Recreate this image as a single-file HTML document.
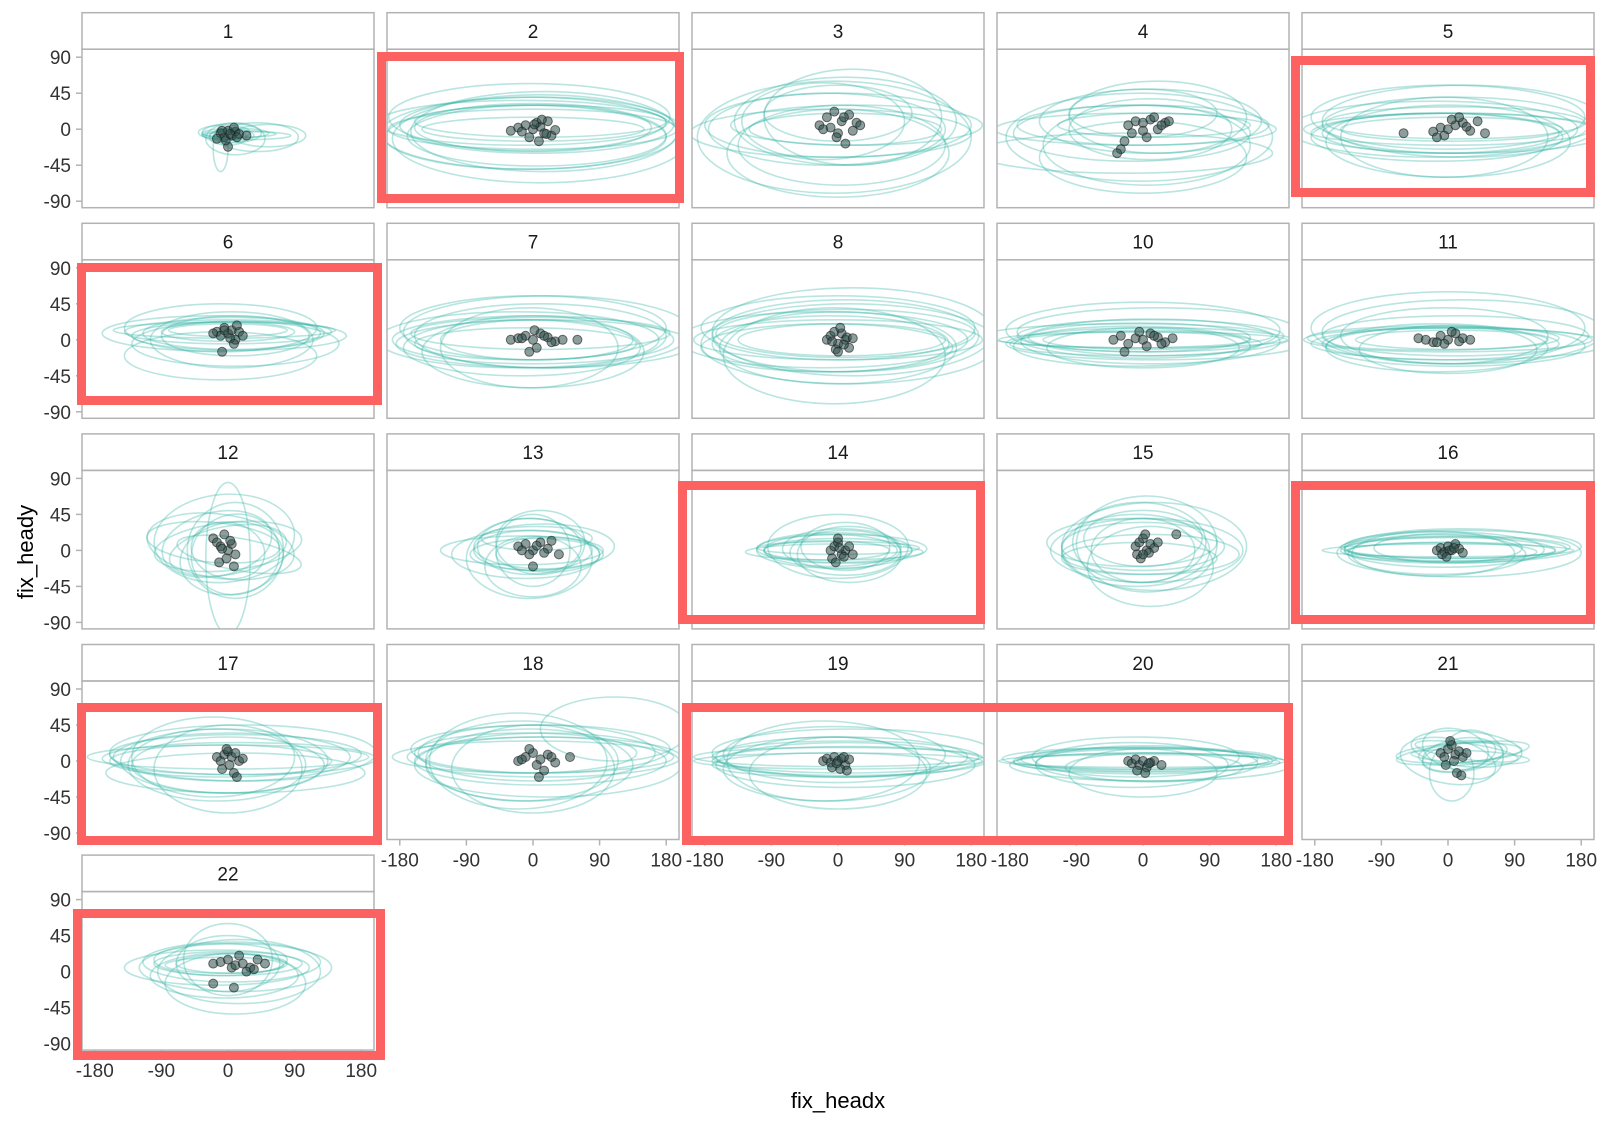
<!DOCTYPE html>
<html><head><meta charset="utf-8">
<style>
html,body{margin:0;padding:0;background:#fff;}
svg{display:block;font-family:"Liberation Sans",Arial,sans-serif;}
</style></head>
<body>
<svg id="chart" width="1607" height="1125" viewBox="0 0 1607 1125" xmlns="http://www.w3.org/2000/svg">
<text x="838" y="1108" font-size="22" text-anchor="middle" fill="#000">fix_headx</text>
<text x="0" y="0" font-size="22" text-anchor="middle" fill="#000" transform="translate(33,552) rotate(-90)">fix_heady</text>
</svg>
<script>
const panelIds = [1,2,3,4,5,6,7,8,10,11,12,13,14,15,16,17,18,19,20,21,22];
const xTicks = [-180,-90,0,90,180];
const yTicks = [90,45,0,-45,-90];
const defaultCx = [0,10,-10,20,-15,5,0,15,-5,10,-20,0];
const defaultCy = [0,5,-5,10,-10,0,15,-5,-10,8,0,-15];
const ellCx = [
 [5,10,0,25,5,-10,40,0,15,-5,55,10],
 [0,5,-5,10,-10,0,15,-15,5,0,-5,10],
 [0,10,-10,20,-15,5,0,25,-5,10,-20,0],
 [0,10,-10,20,-15,5,0,-25,15,-5,10,0],
 null,
 [0,5,-5,10,-10,0,15,-10,5,0,-20,10],
 null,null,null,null,
 [0,-10,10,-20,5,0,-5,15,0,-15,10,0],
 [0,-5,5,10,-10,0,5,-5,15,0,-15,20],
 [0,5,-5,10,-10,0,15,0,-15,5,10,-5],
 [0,5,-5,10,-10,0,15,-5,5,0,-15,10],
 null,null,
 [0,10,-10,20,-15,5,0,15,-5,10,-20,110],
 null,
 [0,5,-5,10,-10,0,15,-5,5,0,-15,0],
 [20,25,15,30,10,20,35,5,20,25,0,15],
 [0,5,-5,10,-10,0,15,-5,5,0,-15,10]
];
const ellCy = [
 [-8,-5,-10,-8,-5,-25,-10,-8,-6,-4,-8,-12],
 [0,5,-5,10,-10,2,-3,8,-8,0,15,-12],
 [5,10,-5,15,0,-20,20,5,-10,0,10,-30],
 [5,10,0,15,-5,-20,20,-30,5,-10,0,-35],
 [0,5,-5,10,-10,0,15,-5,-10,8,0,-15],
 [10,8,12,5,15,10,5,-20,0,12,8,-5],
 [0,5,-5,10,-10,0,15,-5,-10,8,0,-15],
 [0,5,-5,10,-10,0,15,-5,-20,8,0,-10],
 [0,5,-5,10,-8,0,12,-5,3,-2,5,-10],
 [0,5,-5,10,-10,0,15,-5,5,-8,2,-12],
 [0,5,-5,10,-10,0,15,-5,-10,8,0,5],
 [0,5,-5,10,-5,0,15,-10,5,-20,0,-5],
 [0,2,-2,5,0,3,-5,5,0,2,-3,0],
 [5,0,10,-5,0,15,5,-10,8,0,10,-20],
 [0,2,-2,5,-5,0,3,-3,1,4,-4,0],
 [5,8,0,10,-5,5,-10,3,0,-15,5,-5],
 [5,0,10,-5,0,10,-10,5,-5,15,0,40],
 [0,5,-5,10,-10,5,-15,0,8,-5,0,5],
 [0,-2,2,-5,5,0,-8,3,-3,0,-5,-15],
 [10,12,8,5,15,10,8,-15,5,15,0,10],
 [10,12,8,5,15,10,0,-5,10,15,5,-15]
];
const ellRx = [
 [30,45,25,60,40,10,55,20,50,35,50,40],
 [195,185,200,170,190,160,180,195,175,150,190,200],
 [180,150,190,120,160,140,100,170,185,130,110,150],
 [170,150,190,120,160,140,100,200,130,180,110,140],
 [195,180,160,190,170,150,185,200,140,175,195,165],
 [140,120,150,100,130,90,145,130,110,80,150,140],
 [190,170,150,195,160,130,180,200,120,175,190,150],
 [195,180,160,190,170,140,185,200,150,175,195,160],
 [195,180,170,190,160,140,185,200,150,175,195,130],
 [195,180,160,190,150,130,185,200,140,175,170,120],
 [80,100,60,90,70,50,95,85,30,75,65,100],
 [80,70,90,60,100,50,75,85,95,65,110,70],
 [100,80,120,60,90,110,70,95,85,115,75,105],
 [110,130,90,120,100,80,125,105,95,70,115,85],
 [170,150,130,160,120,140,100,165,135,155,110,145],
 [190,170,150,180,120,160,100,185,140,175,110,130],
 [190,170,150,180,130,160,110,185,140,175,120,100],
 [195,180,160,190,140,170,120,185,150,175,130,195],
 [195,180,160,190,140,170,120,185,150,175,130,100],
 [60,70,50,80,45,90,40,30,55,75,65,85],
 [100,120,80,130,90,70,110,100,75,60,125,95]
];
const ellRy = [
 [8,6,10,5,12,28,18,6,4,9,14,20],
 [25,35,45,20,40,30,50,28,38,15,42,55],
 [40,55,30,60,45,50,35,25,70,20,48,55],
 [25,40,20,45,35,50,30,25,15,55,38,45],
 [20,35,25,45,30,15,40,25,50,20,35,45],
 [15,20,10,25,30,12,18,30,35,8,22,28],
 [30,40,20,45,35,25,40,30,50,20,35,45],
 [25,45,35,55,30,20,40,50,60,30,35,45],
 [10,20,15,30,25,12,35,20,18,28,15,25],
 [15,25,20,40,30,12,45,20,35,25,15,30],
 [30,40,50,25,45,35,55,20,95,40,60,30],
 [25,35,20,40,30,45,15,50,28,38,18,22],
 [15,25,10,30,20,8,35,40,12,18,28,22],
 [30,40,50,25,45,35,55,20,60,40,30,50],
 [8,15,12,20,25,10,18,30,22,14,28,16],
 [15,25,20,35,45,30,55,20,40,25,50,35],
 [20,30,25,40,50,35,55,25,45,30,60,40],
 [10,20,15,30,40,25,45,18,35,28,50,12],
 [8,12,15,20,25,10,18,14,22,16,28,30],
 [15,10,20,8,25,12,30,35,18,22,28,12],
 [15,25,10,30,20,35,40,28,12,45,22,38]
];
const ellRot = [
 null,
 null,null,null,null,null,null,null,null,null,
 [-10,8,-15,5,-8,12,-5,10,0,-12,6,-6],
 null,null,null,null,null,null,null,null,
 [-5,8,-10,3,12,-6,15,0,-8,5,10,-3],
 null
];
const ptX = [
 [-10,-5,0,5,10,15,-15,0,8,-3,25,3,-8,12],
 [-30,-20,-10,0,5,10,15,20,-5,25,8,-15,12,30,2,18],
 [-25,-15,-5,5,15,25,-20,0,10,20,-10,30,8,-2],
 [-20,-10,0,10,20,30,-25,-30,-35,-15,5,15,25,35,0],
 [-60,-20,-10,0,10,20,30,40,-5,15,25,50,-15,5],
 [-15,-10,-5,0,5,10,15,20,-8,3,12,-20,8,-5],
 [-30,-20,-10,0,10,20,30,40,5,-5,15,25,-15,2,60],
 [-15,-10,-5,0,5,10,15,-8,3,12,-3,8,0,20],
 [-40,-30,-20,-10,0,10,20,30,40,-25,5,15,-5,25],
 [-40,-30,-20,-10,0,10,20,-5,5,15,30,-15],
 [-20,-15,-10,-5,0,5,10,-12,-2,8,3,-8],
 [-20,-10,0,10,20,-5,5,15,-15,25,0,35],
 [-10,-5,0,5,10,-8,2,8,-3,15,0,20],
 [-10,-5,0,5,10,15,-8,3,8,-3,20,45,0],
 [-15,-10,-5,0,5,10,15,20,-8,2,8,-2],
 [-15,-10,-5,0,5,10,15,20,-8,2,8,-2,12],
 [-20,-10,0,10,20,30,-5,5,15,-15,25,50,8],
 [-20,-15,-10,-5,0,5,10,15,-8,3,8,-2,12],
 [-20,-15,-10,-5,0,5,10,15,25,-8,3,8],
 [-10,-5,0,5,10,15,20,25,-3,8,12,18,3],
 [-20,-10,0,5,10,15,20,30,40,50,-20,8,25,35]
];
const ptY = [
 [-5,-10,-2,-8,-3,-6,-12,-22,2,-14,-8,-6,-2,-10],
 [-2,2,5,0,8,3,-5,10,-10,-8,-15,-3,12,-1,6,-6],
 [5,15,22,10,18,8,0,-5,-18,-2,2,5,15,-10],
 [5,10,8,12,0,8,-15,-25,-30,-5,-10,15,5,10,-2],
 [-5,-3,2,0,5,8,-2,10,-8,15,3,-5,-10,12],
 [10,5,15,8,12,0,10,5,-15,2,18,8,-5,12],
 [0,2,5,0,8,3,-2,0,-10,-15,5,-3,2,12,0],
 [0,5,10,-5,8,0,-10,-2,15,3,-12,-6,-15,2],
 [0,5,-5,2,0,8,3,-3,2,-15,-8,5,10,-5],
 [2,0,-3,5,0,8,2,-5,10,-2,0,-3],
 [15,10,5,20,0,8,-5,-15,-10,-20,12,2],
 [5,8,0,10,2,-5,6,-3,0,12,-20,-5],
 [0,5,10,-5,0,-10,3,-8,-15,5,15,-5],
 [5,10,15,0,8,3,-5,20,-3,-10,10,20,-5],
 [0,3,-2,5,0,8,2,-3,-5,0,3,-8],
 [5,0,8,12,5,10,0,3,-10,-5,-15,15,-20],
 [0,5,10,2,8,-2,15,-5,-12,2,5,5,-20],
 [0,3,-2,5,0,3,-5,2,-8,-10,5,-3,-12],
 [0,-3,2,-5,0,-8,-2,0,-5,-12,-15,-3],
 [10,5,15,20,8,12,5,10,-5,0,-15,-18,25],
 [10,12,15,5,8,20,10,5,15,10,-15,-20,0,3]
];

const NS = 'http://www.w3.org/2000/svg';
const svg = document.getElementById('chart');
const COL0 = 82, COLSTEP = 305, PW = 292;
const STRIP0 = 12.7, ROWSTEP = 210.6, STRIPH = 36.5, PH = 158.5;
const XS = 0.74, YS = 0.8;
function mk(tag, attrs, parent){ const e=document.createElementNS(NS,tag); for(const k in attrs) e.setAttribute(k,attrs[k]); (parent||svg).appendChild(e); return e; }
function colLeft(c){ return COL0 + COLSTEP*c; }
function rowStrip(r){ return STRIP0 + ROWSTEP*r; }
function rowTop(r){ return rowStrip(r) + STRIPH; }
function xScale(c, v){ return colLeft(c) + PW/2 + v*XS; }
function yScale(r, v){ return rowTop(r) + 80 - v*YS; }

const defs = mk('defs', {});
panelIds.forEach((pid, i) => {
  const r = Math.floor(i/5), c = i%5;
  const L = colLeft(c), T = rowTop(r);
  const g = mk('g', {});
  
  
  const strip = mk('rect', {x:L, y:rowStrip(r), width:PW, height:STRIPH, fill:'#fff', stroke:'#b3b3b3', 'stroke-width':1.5}, g);
  
  
  const st = mk('text', {x:L+PW/2, y:rowStrip(r)+STRIPH/2+7, 'font-size':19, 'text-anchor':'middle', fill:'#1a1a1a'}, g);
  st.textContent = pid;
  
  
  const cp = mk('clipPath', {id:'clip'+i}, defs);
  mk('rect', {x:L, y:T, width:PW, height:PH}, cp);
  const pg = mk('g', {'clip-path':'url(#clip'+i+')'}, g);
  const rx = ellRx[i], ry = ellRy[i];
  const cx = ellCx[i] || defaultCx, cy = ellCy[i] || defaultCy;
  const rot = ellRot[i];
  for (let k=0;k<rx.length;k++){
    const ex = xScale(c, cx[k]), ey = yScale(r, cy[k]);
    const a = rot ? rot[k] : 0;
    const e = mk('ellipse', {cx:ex, cy:ey, rx:rx[k]*XS, ry:ry[k]*YS, fill:'none', stroke:'#36b5a5', 'stroke-opacity':0.35, 'stroke-width':1.6, transform:'rotate('+a+' '+ex+' '+ey+')'}, pg);
    
    
  }
  const px = ptX[i], py = ptY[i];
  for (let k=0;k<px.length;k++){
    const p = mk('circle', {cx:xScale(c, px[k]), cy:yScale(r, py[k]), r:4.5, fill:'#2b4f4a', 'fill-opacity':0.55, stroke:'#1a1a1a', 'stroke-opacity':0.6, 'stroke-width':1}, pg);
    
    
  }
  const border = mk('rect', {x:L, y:T, width:PW, height:PH, fill:'none', stroke:'#b3b3b3', 'stroke-width':1.5}, g);
  
  
  if (c === 0) {
    yTicks.forEach(t => {
      const yy = yScale(r, t);
      mk('line', {x1:L-6, x2:L, y1:yy, y2:yy, stroke:'#b3b3b3', 'stroke-width':1.5}, g);
      const tl = mk('text', {x:L-11, y:yy+7, 'font-size':19, 'text-anchor':'end', fill:'#333'}, g);
      tl.textContent = t;
      
      
    });
  }
  const below = i + 5 >= panelIds.length;
  if (below) {
    xTicks.forEach(t => {
      const xx = xScale(c, t), yb = T + PH;
      mk('line', {x1:xx, x2:xx, y1:yb, y2:yb+6, stroke:'#b3b3b3', 'stroke-width':1.5}, g);
      const tl = mk('text', {x:xx, y:yb+27, 'font-size':19, 'text-anchor':'middle', fill:'#333'}, g);
      tl.textContent = t;
      
      
    });
  }
});

const hlX = [377,1291,77,678,1291,77,682,73];
const hlY = [52,56,263,481,481,703,703,909];
const hlW = [307,304,305,307,304,305,611,312];
const hlH = [151,141,142,143,143,142,142,151];
const hlNames = ['2','5','6','14','16','17','19-20','22'];
for (let k=0;k<hlX.length;k++){
  const b = mk('rect', {x:hlX[k]+4.5, y:hlY[k]+4.5, width:hlW[k]-9, height:hlH[k]-9, fill:'none', stroke:'#fd6262', 'stroke-width':9});
  
  
}
</script>
</body></html>
